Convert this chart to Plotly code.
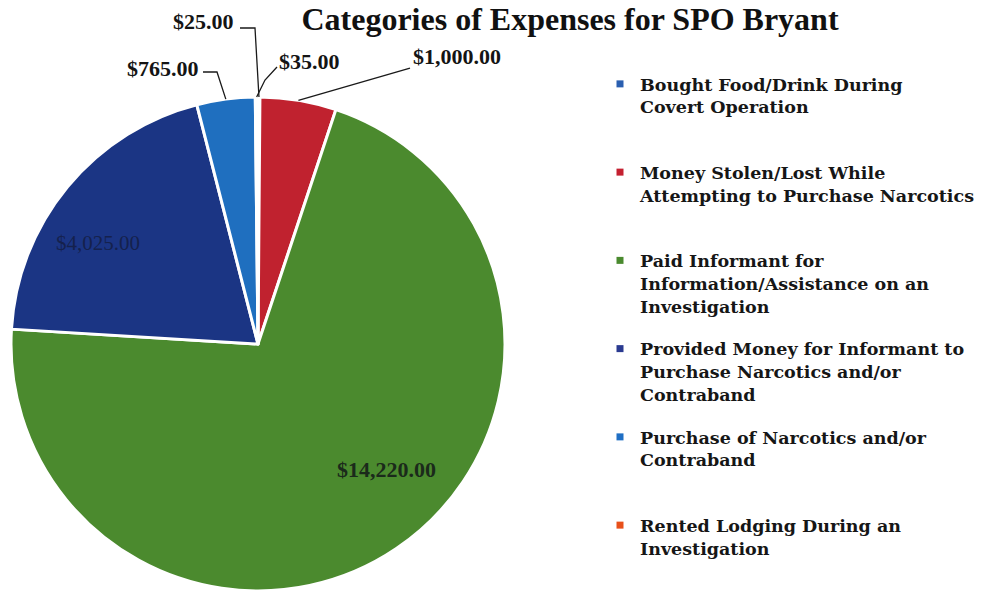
import math
import plotly.graph_objects as go

# ---------------- data ----------------
categories = [
    "Bought Food/Drink During Covert Operation",
    "Money Stolen/Lost While Attempting to Purchase Narcotics",
    "Paid Informant for Information/Assistance on an Investigation",
    "Provided Money for Informant to Purchase Narcotics and/or Contraband",
    "Purchase of Narcotics and/or Contraband",
    "Rented Lodging During an Investigation",
]
legend_lines = [
    ["Bought Food/Drink During", "Covert Operation"],
    ["Money Stolen/Lost While", "Attempting to Purchase Narcotics"],
    ["Paid Informant for", "Information/Assistance on an", "Investigation"],
    ["Provided Money for Informant to", "Purchase Narcotics and/or", "Contraband"],
    ["Purchase of Narcotics and/or", "Contraband"],
    ["Rented Lodging During an", "Investigation"],
]
amounts = [25, 1000, 14220, 4025, 765, 35]
title_text = "Categories of Expenses for SPO Bryant"

# ---------------- style ----------------
W, H = 982, 594
slice_colors = ["#2462b4", "#c0222f", "#4b8a2e", "#1b3584", "#1f6fbf", "#e4461c"]
legend_colors = ["#2a5fb0", "#c42030", "#4a8a2e", "#2a3a90", "#1f6fc4", "#e8501a"]
PIE_CX, PIE_CY, PIE_R = 258, 344, 247
SERIF = "Liberation Serif"

def P(x, y):
    return x / W, 1 - y / H

total = sum(amounts)
mids = []
cum = 0
for v in amounts:
    mids.append((cum + v / 2) / total * 2 * math.pi)
    cum += v

def edge(i):
    a = mids[i]
    return PIE_CX + PIE_R * math.sin(a), PIE_CY - PIE_R * math.cos(a)

def money(v):
    return "${:,.2f}".format(v)

fig = go.Figure()
fig.add_trace(go.Pie(
    labels=categories,
    values=amounts,
    sort=False,
    direction="clockwise",
    rotation=0,
    marker=dict(colors=slice_colors, line=dict(color="white", width=3)),
    textinfo="none",
    hoverinfo="label+value+percent",
    showlegend=False,
    domain=dict(
        x=[(PIE_CX - PIE_R) / W, (PIE_CX + PIE_R) / W],
        y=[1 - (PIE_CY + PIE_R) / H, 1 - (PIE_CY - PIE_R) / H],
    ),
))

# legend entries (small square keys), padded to equal height
max_lines = max(len(l) for l in legend_lines)
for i, lines in enumerate(legend_lines):
    padded = lines + ["&nbsp;"] * (max_lines - len(lines))
    fig.add_trace(go.Scatter(
        x=[None], y=[None], mode="markers",
        marker=dict(symbol="square", size=7, color=legend_colors[i]),
        name="<br>".join(padded),
        legendgroup="g%d" % i,
        showlegend=True,
        hoverinfo="skip",
    ))

annotations = []
shapes = []

# outside labels: (slice index, label centre px, leader path px before the edge point)
outside = [
    (0, (203.5, 22), [(240, 28), (255, 28)]),
    (5, (309.5, 62), [(277, 67), (265, 80)]),
    (1, (456.5, 56), [(410, 68)]),
    (4, (162.5, 68), [(203, 72), (217, 72)]),
]
for i, (lx, ly), pts in outside:
    ax, ay = P(lx, ly)
    annotations.append(dict(
        x=ax, y=ay, xref="paper", yref="paper", text=money(amounts[i]),
        showarrow=False, xanchor="center", yanchor="middle",
        font=dict(family=SERIF, size=22, color="#141414", weight="bold"),
    ))
    path_pts = pts + [edge(i)]
    path = "M " + " L ".join("%.5f,%.5f" % P(x, y) for x, y in path_pts)
    shapes.append(dict(type="path", path=path, xref="paper", yref="paper",
                       line=dict(color="#1a1a1a", width=1.3)))

# inside labels
inside = [
    (3, (98, 243), dict(family=SERIF, size=21, color="#15214d")),
    (2, (386, 470), dict(family=SERIF, size=22, color="#1b2a1b", weight="bold")),
]
for i, (lx, ly), f in inside:
    ax, ay = P(lx, ly)
    annotations.append(dict(
        x=ax, y=ay, xref="paper", yref="paper", text=money(amounts[i]),
        showarrow=False, xanchor="center", yanchor="middle", font=f,
    ))

fig.update_layout(
    width=W, height=H,
    margin=dict(l=0, r=0, t=0, b=0),
    paper_bgcolor="white",
    plot_bgcolor="white",
    title=dict(
        text=title_text, x=570 / W, xanchor="center", y=1 - 19 / H, yanchor="middle",
        yref="container",
        font=dict(family=SERIF, size=32, color="#111111", weight="bold"),
    ),
    xaxis=dict(visible=False),
    yaxis=dict(visible=False),
    legend=dict(
        x=600 / W, xanchor="left", y=1 - 66 / H, yanchor="top",
        font=dict(family="DejaVu Serif", size=17.5, color="#161616", weight="bold"),
        valign="top", tracegroupgap=17, bgcolor="rgba(0,0,0,0)",
    ),
    annotations=annotations,
    shapes=shapes,
)

fig.write_html("out.html", config={"displayModeBar": False},
               post_script="document.body.style.margin='0';")
